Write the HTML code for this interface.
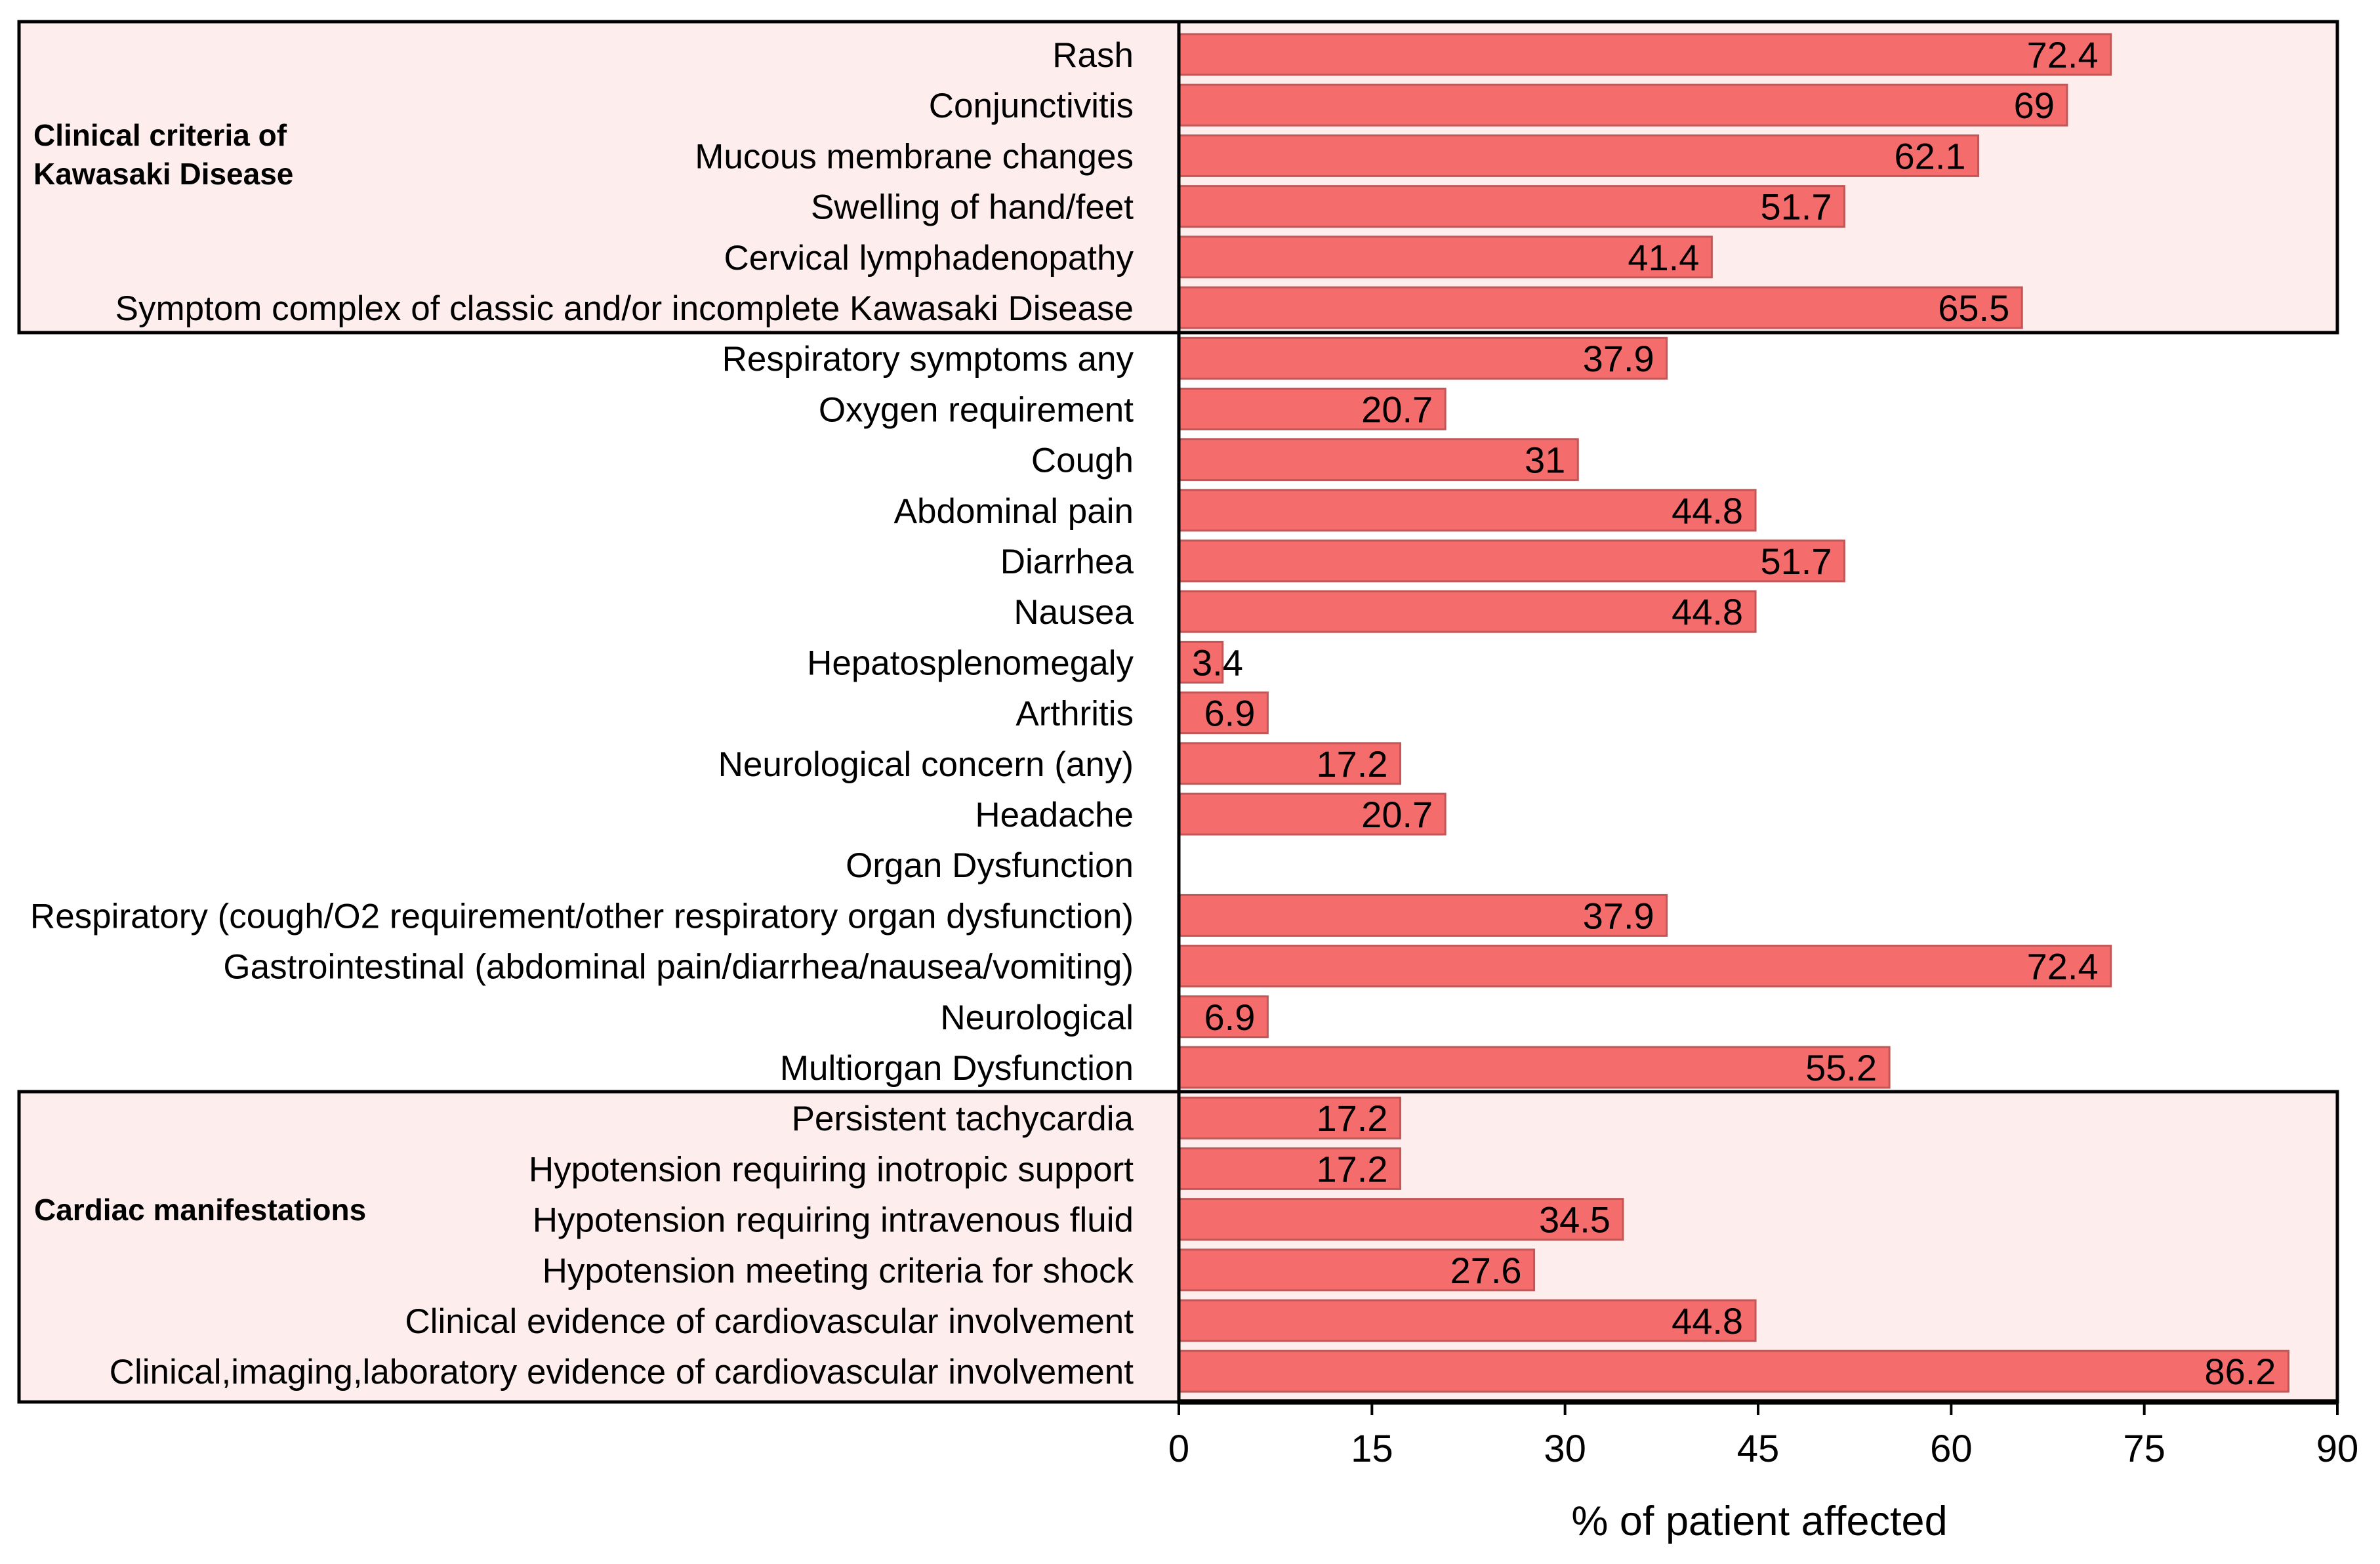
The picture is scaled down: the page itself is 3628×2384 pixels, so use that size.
<!DOCTYPE html>
<html><head><meta charset="utf-8"><style>
html,body{margin:0;padding:0;background:#fff;}
svg{display:block;font-family:"Liberation Sans",sans-serif;}
</style></head><body>
<svg id="chart" width="3628" height="2384" viewBox="0 0 3628 2384" xmlns="http://www.w3.org/2000/svg">
<rect x="29" y="33" width="3534" height="474" fill="#fdeded" stroke="#000" stroke-width="5"/>
<rect x="29" y="1664" width="3534" height="473" fill="#fdeded" stroke="#000" stroke-width="5"/>
<text x="51" y="222" font-size="46" font-weight="bold">Clinical criteria of</text>
<text x="51" y="281" font-size="46" font-weight="bold">Kawasaki Disease</text>
<text x="52" y="1860" font-size="46" font-weight="bold">Cardiac manifestations</text>
<g id="bars"></g>
<g id="axis"></g>
<text x="2682" y="2340" font-size="63" text-anchor="middle">% of patient affected</text>
</svg>
<script>
const categories = ["Rash","Conjunctivitis","Mucous membrane changes","Swelling of hand/feet","Cervical lymphadenopathy","Symptom complex of classic and/or incomplete Kawasaki Disease","Respiratory symptoms any","Oxygen requirement","Cough","Abdominal pain","Diarrhea","Nausea","Hepatosplenomegaly","Arthritis","Neurological concern (any)","Headache","Organ Dysfunction","Respiratory (cough/O2 requirement/other respiratory organ dysfunction)","Gastrointestinal (abdominal pain/diarrhea/nausea/vomiting)","Neurological","Multiorgan Dysfunction","Persistent tachycardia","Hypotension requiring inotropic support","Hypotension requiring intravenous fluid","Hypotension meeting criteria for shock","Clinical evidence of cardiovascular involvement","Clinical,imaging,laboratory evidence of cardiovascular involvement"];
const values = [72.4,69,62.1,51.7,41.4,65.5,37.9,20.7,31,44.8,51.7,44.8,3.4,6.9,17.2,20.7,null,37.9,72.4,6.9,55.2,17.2,17.2,34.5,27.6,44.8,86.2];
const valueLabels = ["72.4","69","62.1","51.7","41.4","65.5","37.9","20.7","31","44.8","51.7","44.8","3.4","6.9","17.2","20.7","","37.9","72.4","6.9","55.2","17.2","17.2","34.5","27.6","44.8","86.2"];
const ticks = [0,15,30,45,60,75,90];
const tickLabels = ["0","15","30","45","60","75","90"];

const NS="http://www.w3.org/2000/svg";
const X0=1797, X1=3563, XMAX=90, Y0=83, PITCH=77.2, BH=62;
function xs(v){return X0+(v/XMAX)*(X1-X0);}
function yc(i){return Y0+i*PITCH;}
function mk(tag,attrs,parent){const e=document.createElementNS(NS,tag);for(const k in attrs)e.setAttribute(k,attrs[k]);parent.appendChild(e);return e;}
const bars=document.getElementById('bars');
categories.forEach((c,i)=>{
  const t=mk('text',{x:1728,y:yc(i)+19,'font-size':53,'text-anchor':'end'},bars);
  
  
  t.textContent=c;
  const v=values[i];
  if(v===null||v===undefined)return;
  const r=mk('rect',{x:X0,y:yc(i)-BH/2,width:xs(v)-X0,height:BH,fill:'#f56c6c',stroke:'#c25757','stroke-width':3},bars);
  
  
  const lt=mk('text',{x:xs(v)-19,y:yc(i)+20,'font-size':56,'text-anchor':'end'},bars);
  
  
  lt.textContent=valueLabels[i];
  const w=lt.getComputedTextLength();
  if(xs(v)-19-w<X0+20){lt.setAttribute('text-anchor','start');lt.setAttribute('x',X0+20);}
});
const ax=document.getElementById('axis');
const yl=mk('line',{x1:X0,y1:33,x2:X0,y2:2140,stroke:'#000','stroke-width':5},ax);


const xl=mk('line',{x1:X0-2,y1:2137,x2:X1+2,y2:2137,stroke:'#000','stroke-width':8},ax);


ticks.forEach((t,i)=>{
  const tk=mk('line',{x1:xs(t),y1:2137,x2:xs(t),y2:2157,stroke:'#000','stroke-width':4},ax);
  
  
  const tl=mk('text',{x:xs(t),y:2228,'font-size':58,'text-anchor':'middle'},ax);
  
  
  tl.textContent=tickLabels[i];
});
</script>
</body></html>
